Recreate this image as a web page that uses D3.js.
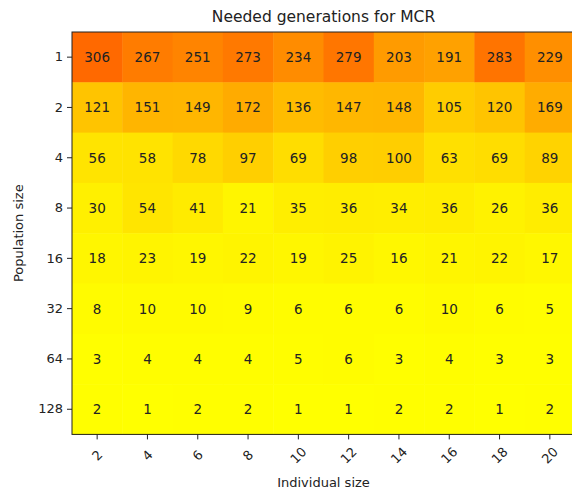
<!DOCTYPE html>
<html>
<head>
<meta charset="utf-8">
<script src="https://cdn.jsdelivr.net/npm/d3@7"></script>
<style>
  body { margin: 0; background: white; }
  svg { font-family: 'DejaVu Sans', sans-serif; display: block; }
</style>
</head>
<body>
<svg width="572" height="493"></svg>
<script>
// === Data

const INDIVIDUAL_SIZES = [2, 4, 6, 8, 10, 12, 14, 16, 18, 20];
const POPULATION_SIZES = [1, 2, 4, 8, 16, 32, 64, 128];
const GENERATIONS = [
  [306, 267, 251, 273, 234, 279, 203, 191, 283, 229],
  [121, 151, 149, 172, 136, 147, 148, 105, 120, 169],
  [56, 58, 78, 97, 69, 98, 100, 63, 69, 89],
  [30, 54, 41, 21, 35, 36, 34, 36, 26, 36],
  [18, 23, 19, 22, 19, 25, 16, 21, 22, 17],
  [8, 10, 10, 9, 6, 6, 6, 10, 6, 5],
  [3, 4, 4, 4, 5, 6, 3, 4, 3, 3],
  [2, 1, 2, 2, 1, 1, 2, 2, 1, 2]
];

// === Layout

const MARGIN = { left: 72, top: 32 };
const CELL = 50.3;
const COLOR_MAX = 520;
const TEXT_COLOR = '#222';

const svg = d3.select('svg');
const width = CELL * INDIVIDUAL_SIZES.length;
const height = CELL * POPULATION_SIZES.length;

const x = d3.scaleBand().domain(INDIVIDUAL_SIZES).range([0, width]);
const y = d3.scaleBand().domain(POPULATION_SIZES).range([0, height]);
const color = d3.scaleLinear().domain([0, COLOR_MAX]).range(['#ffff00', '#ff0000']);

const cells = GENERATIONS.flatMap((row, i) =>
  row.map((v, j) => ({ pop: POPULATION_SIZES[i], ind: INDIVIDUAL_SIZES[j], value: v })));

const g = svg.append('g').attr('transform', `translate(${MARGIN.left},${MARGIN.top})`);

g.selectAll('rect.cell')
  .data(cells)
  .enter().append('rect')
  .attr('class', 'cell')
  .attr('x', d => x(d.ind))
  .attr('y', d => y(d.pop))
  .attr('width', x.bandwidth() + 0.5)
  .attr('height', y.bandwidth() + 0.5)
  .attr('fill', d => color(d.value));

g.selectAll('text.val')
  .data(cells)
  .enter().append('text')
  .attr('class', 'val')
  .attr('x', d => x(d.ind) + x.bandwidth() / 2)
  .attr('y', d => y(d.pop) + y.bandwidth() / 2)
  .attr('text-anchor', 'middle')
  .attr('dominant-baseline', 'central')
  .attr('font-size', 13.5)
  .attr('fill', TEXT_COLOR)
  .text(d => d.value);

// frame
g.append('rect')
  .attr('x', 0).attr('y', 0)
  .attr('width', width).attr('height', height)
  .attr('fill', 'none')
  .attr('stroke', '#222')
  .attr('stroke-width', 1);

// axes
const yAxis = g.append('g')
  .call(d3.axisLeft(y).tickSize(5).tickPadding(4));
const xAxis = g.append('g')
  .attr('transform', `translate(0,${height})`)
  .call(d3.axisBottom(x).tickSize(5).tickPadding(4));

[xAxis, yAxis].forEach(a => {
  a.select('.domain').remove();
  a.selectAll('line').attr('stroke', '#222');
  a.selectAll('text')
    .attr('font-size', 13)
    .attr('fill', TEXT_COLOR)
    .style('font-family', "'DejaVu Sans', sans-serif");
});

xAxis.selectAll('text')
  .attr('y', 0).attr('dy', null)
  .attr('text-anchor', 'middle')
  .attr('dominant-baseline', 'central')
  .attr('transform', 'translate(0,21) rotate(-45)');

// labels
svg.append('text')
  .attr('x', MARGIN.left + width / 2)
  .attr('y', 22)
  .attr('text-anchor', 'middle')
  .attr('font-size', 15.5)
  .attr('fill', TEXT_COLOR)
  .text('Needed generations for MCR');

svg.append('text')
  .attr('x', MARGIN.left + width / 2)
  .attr('y', 487)
  .attr('text-anchor', 'middle')
  .attr('font-size', 13)
  .attr('fill', TEXT_COLOR)
  .text('Individual size');

svg.append('text')
  .attr('transform', `translate(23,${MARGIN.top + height / 2}) rotate(-90)`)
  .attr('text-anchor', 'middle')
  .attr('font-size', 13)
  .attr('fill', TEXT_COLOR)
  .text('Population size');
</script>
</body>
</html>
